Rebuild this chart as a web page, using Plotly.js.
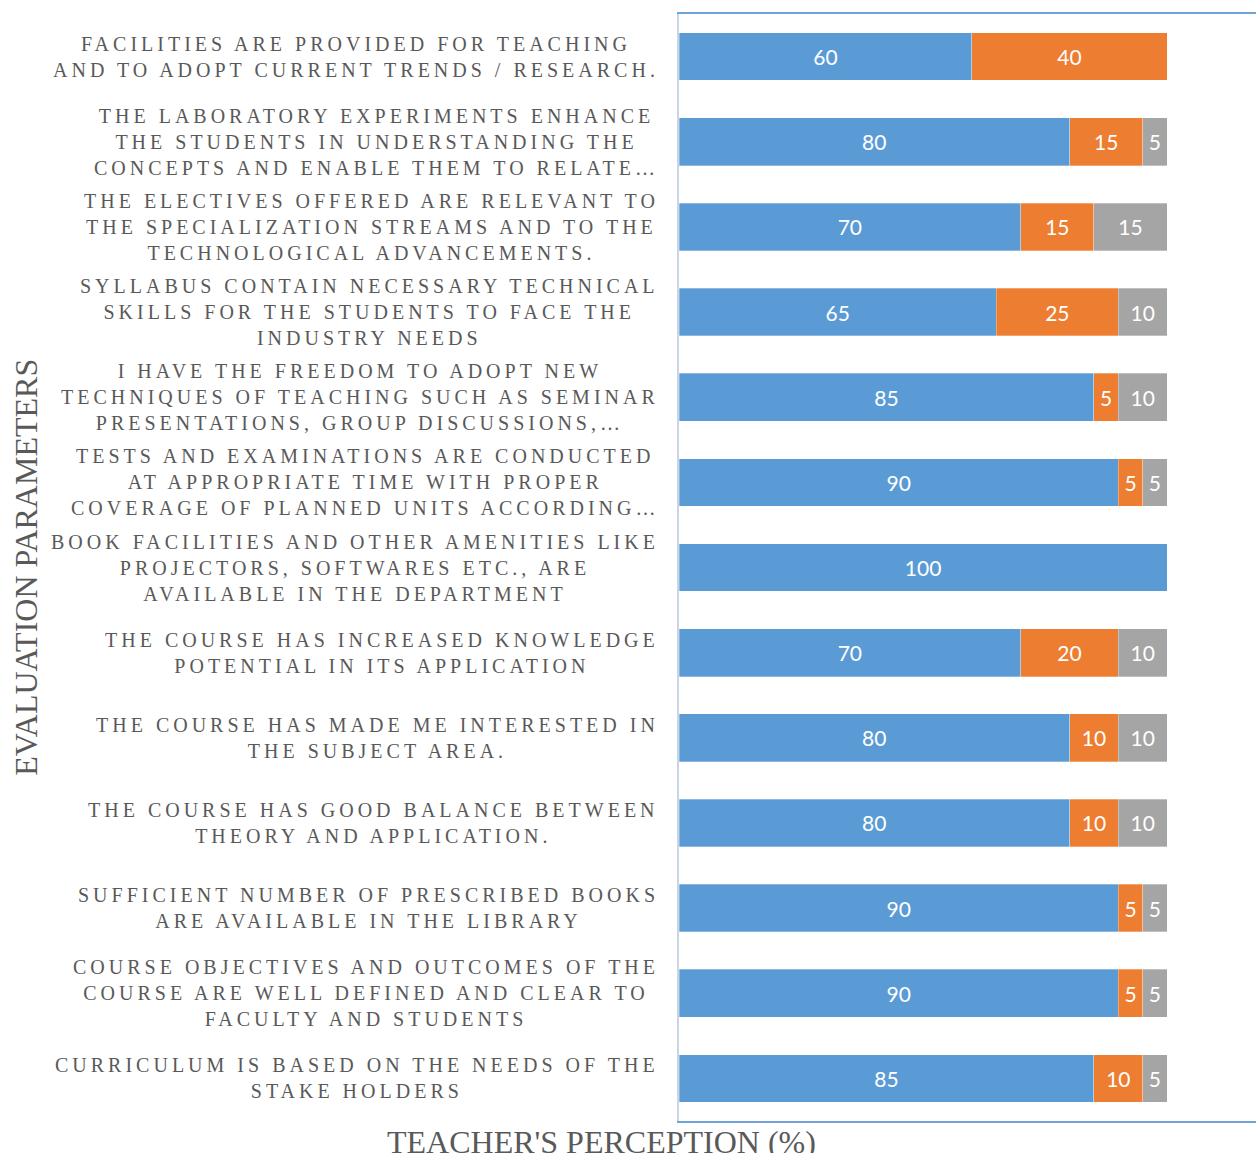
<!DOCTYPE html>
<html>
<head>
<meta charset="utf-8">
<script src="https://cdn.plot.ly/plotly-3.0.1.min.js"></script>
<style>
  html, body { margin: 0; padding: 0; background: #fff; }
  #chart { width: 1256px; height: 1153px; }
</style>
</head>
<body>
<div id="chart"></div>
<script>
const categories = [
  "FACILITIES ARE PROVIDED FOR TEACHING<br>AND TO ADOPT CURRENT TRENDS / RESEARCH.",
  "THE LABORATORY EXPERIMENTS ENHANCE<br>THE STUDENTS IN UNDERSTANDING THE<br>CONCEPTS AND ENABLE THEM TO RELATE…",
  "THE ELECTIVES OFFERED ARE RELEVANT TO<br>THE SPECIALIZATION STREAMS AND TO THE<br>TECHNOLOGICAL ADVANCEMENTS.",
  "SYLLABUS CONTAIN NECESSARY TECHNICAL<br>SKILLS FOR THE STUDENTS TO FACE THE<br>INDUSTRY NEEDS",
  "I HAVE THE FREEDOM TO ADOPT NEW<br>TECHNIQUES OF TEACHING SUCH AS SEMINAR<br>PRESENTATIONS, GROUP DISCUSSIONS,…",
  "TESTS AND EXAMINATIONS ARE CONDUCTED<br>AT APPROPRIATE TIME WITH PROPER<br>COVERAGE OF PLANNED UNITS ACCORDING…",
  "BOOK FACILITIES AND OTHER AMENITIES LIKE<br>PROJECTORS, SOFTWARES ETC., ARE<br>AVAILABLE IN THE DEPARTMENT",
  "THE COURSE HAS INCREASED KNOWLEDGE<br>POTENTIAL IN ITS APPLICATION",
  "THE COURSE HAS MADE ME INTERESTED IN<br>THE SUBJECT AREA.",
  "THE COURSE HAS GOOD BALANCE BETWEEN<br>THEORY AND APPLICATION.",
  "SUFFICIENT NUMBER OF PRESCRIBED BOOKS<br>ARE AVAILABLE IN THE LIBRARY",
  "COURSE OBJECTIVES AND OUTCOMES OF THE<br>COURSE ARE WELL DEFINED AND CLEAR TO<br>FACULTY AND STUDENTS",
  "CURRICULUM IS BASED ON THE NEEDS OF THE<br>STAKE HOLDERS"
];
const seriesBlue   = [60, 80, 70, 65, 85, 90, 100, 70, 80, 80, 90, 90, 85];
const seriesOrange = [40, 15, 15, 25, 5, 5, null, 20, 10, 10, 5, 5, 10];
const seriesGray   = [null, 5, 15, 10, 10, 5, null, 10, 10, 10, 5, 5, 5];

const xTitle = "TEACHER'S PERCEPTION (%)";
const yTitle = "EVALUATION PARAMETERS";

const ids = categories.map((c, i) => "c" + i);

function spaced(txt, px) {
  return txt.split('<br>').map(l => '<span style="letter-spacing:' + px + 'px">' + l + '</span>').join('<br>');
}

function mk(vals, color) {
  return {
    type: 'bar', orientation: 'h',
    y: ids, x: vals,
    marker: { color: color, line: { color: 'rgba(255,255,255,0.6)', width: 0.5 } },
    text: vals.map(v => v == null ? '' : String(v)),
    textposition: 'inside',
    insidetextanchor: 'middle',
    textangle: 0,
    textfont: { family: 'Lato, "Open Sans", sans-serif', size: 21, color: '#ffffff' },
    hoverinfo: 'skip',
    cliponaxis: false
  };
}

const data = [
  mk(seriesBlue, '#5B9BD5'),
  mk(seriesOrange, '#ED7D31'),
  mk(seriesGray, '#A5A5A5')
];

const serif = '"Liberation Serif", "Times New Roman", serif';
const annotations = [
  { xref: 'paper', yref: 'paper', x: -0.135, y: -0.019, xanchor: 'center', yanchor: 'middle',
    text: xTitle, showarrow: false,
    font: { family: serif, size: 32, color: '#595959' } },
  { xref: 'paper', yref: 'paper', x: -1.133, y: 0.5, xanchor: 'center', yanchor: 'middle',
    text: yTitle, showarrow: false, textangle: -90,
    font: { family: serif, size: 32, color: '#595959' } }
];
categories.forEach((c, i) => {
  annotations.push({
    xref: 'paper', yref: 'y', x: 0, y: ids[i], xanchor: 'right', yanchor: 'middle',
    xshift: -18, text: spaced(c, 4), showarrow: false, align: 'center',
    font: { family: serif, size: 20, color: '#595959' }
  });
});

const layout = {
  width: 1256, height: 1153,
  margin: { l: 679, r: 0, t: 14, b: 32, pad: 0 },
  paper_bgcolor: '#ffffff', plot_bgcolor: '#ffffff',
  barmode: 'stack',
  bargap: 0.44,
  showlegend: false,
  xaxis: {
    range: [0, 118.2], showgrid: false, zeroline: false, showticklabels: false, ticks: '',
    showline: true, linecolor: '#6FA3D8', linewidth: 2, mirror: true, fixedrange: true
  },
  yaxis: {
    type: 'category', autorange: 'reversed', showgrid: false, zeroline: false,
    showticklabels: false, ticks: '', showline: true, linecolor: '#C9D5E3', linewidth: 2,
    fixedrange: true
  },
  annotations: annotations
};

Plotly.newPlot('chart', data, layout, { displayModeBar: false, staticPlot: true });
</script>
</body>
</html>
